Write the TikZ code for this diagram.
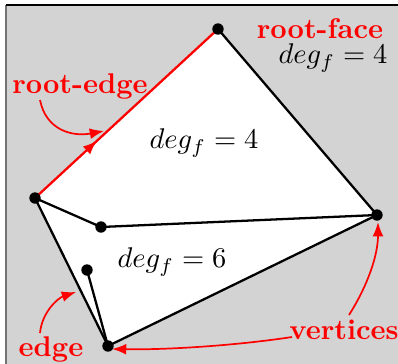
\documentclass[tikz,border=0pt]{standalone}
\usetikzlibrary{arrows.meta,decorations.markings}
\definecolor{bggray}{HTML}{D3D3D3}
\begin{document}
\begin{tikzpicture}[x=0.351pt,y=-0.351pt,
  vert/.style={circle,fill=black,inner sep=0pt,minimum size=4pt},
  gedge/.style={black,line width=0.8pt},
  redlbl/.style={text=red,font=\bfseries},
  redarr/.style={red,line width=0.6pt,-{Latex[length=5pt,width=3.8pt]}}]
\useasboundingbox (0,0) rectangle (398,364);
\fill[bggray] (6,5) rectangle (420,380);
\draw[black!55,line width=0.6pt] (6,5) -- (6,380);
\draw[black,line width=0.6pt] (6,5) -- (420,5);
\coordinate (Tc) at (218,29);
\coordinate (Lc) at (35,198);
\coordinate (Ac) at (101,227);
\coordinate (Rc) at (377,215);
\coordinate (Pc) at (87,270);
\coordinate (Bc) at (108,346);
\fill[white] (Lc) -- (Tc) -- (Rc) -- (Bc) -- cycle;
\draw[red,line width=0.8pt,postaction={decorate},
  decoration={markings,mark=at position 0.34 with {\arrow{Latex[length=5pt,width=3.8pt]}}}] (Lc) -- (Tc);
\draw[gedge] (Tc) -- (Rc);
\draw[gedge] (Lc) -- (Ac) -- (Rc);
\draw[gedge] (Lc) -- (Bc) -- (Rc);
\draw[gedge] (Pc) -- (Bc);
\node[vert] (T) at (Tc) {};
\node[vert] (L) at (Lc) {};
\node[vert] (A) at (Ac) {};
\node[vert] (R) at (Rc) {};
\node[vert] (P) at (Pc) {};
\node[vert] (B) at (Bc) {};
\node[redlbl] (rf) at (320,29) {root-face};
\node (dgo) at (333,58) {$deg_f = 4$};
\node (dg1) at (204,143) {$deg_f = 4$};
\node (dg2) at (172,262) {$deg_f = 6$};
\node[redlbl] (re) at (80,86) {root-edge};
\node[redlbl] (ed) at (51,349) {edge};
\node[redlbl] (vt) at (344,330) {vertices};
\coordinate (reS) at (40,100);
\coordinate (reE) at (104,131);
\draw[redarr] (reS) .. controls (46,130) and (72,137) .. (reE);
\coordinate (edS) at (40,333);
\coordinate (edE) at (76,292);
\draw[redarr] (edS) .. controls (42,312) and (58,298) .. (edE);
\coordinate (v1S) at (292,337);
\coordinate (v1E) at (112,349);
\draw[redarr] (v1S) .. controls (240,345) and (170,350) .. (v1E);
\coordinate (v2S) at (349,315);
\coordinate (v2E) at (378,222);
\draw[redarr] (v2S) .. controls (368,285) and (378,255) .. (v2E);
\end{tikzpicture}
\end{document}
